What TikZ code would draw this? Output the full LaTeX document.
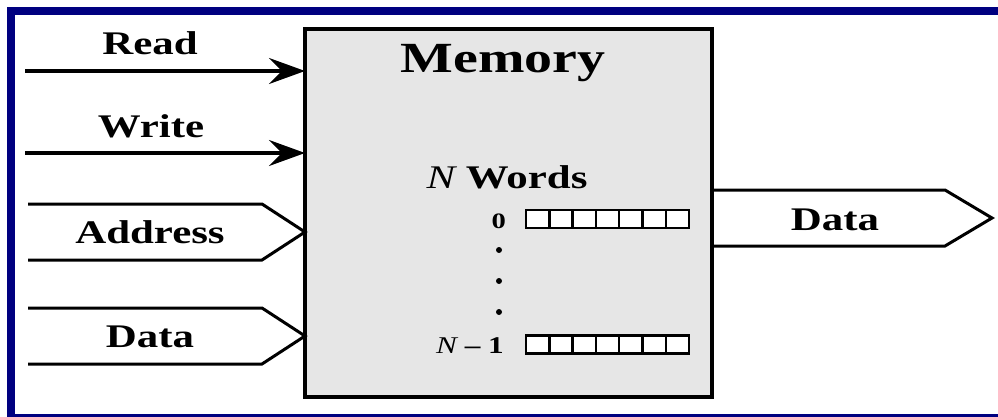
\documentclass[tikz,border=0pt]{standalone}
\usepackage{fontspec}
\setmainfont{Liberation Serif}[FakeStretch=1.3]
\usetikzlibrary{arrows.meta,positioning,calc}
\definecolor{framenavy}{RGB}{0,0,128}
\definecolor{memgray}{RGB}{230,230,230}

\begin{document}
\begin{tikzpicture}[x=1pt,y=-1pt]
\tikzset{lbl/.style={font=\fontsize{33}{36}\selectfont\bfseries,inner sep=0pt,anchor=base}}
\tikzset{wire/.style={line width=3.2pt,-{Stealth[length=36pt,width=26pt,inset=13pt]}}}
\tikzset{bus/.style={line width=3pt,line join=miter}}
\tikzset{cell/.style={draw,line width=2.4pt,fill=white,minimum width=23.3pt,minimum height=18pt,inner sep=0pt,outer sep=0pt}}
\useasboundingbox (0,0) rectangle (998,417);
% frame
\fill[framenavy] (7,7) rectangle (998,15);
\fill[framenavy] (7,7) rectangle (15,417);
\fill[framenavy] (7,414) rectangle (998,417);
% memory block
\node[draw,line width=3.5pt,fill=memgray,minimum width=407pt,minimum height=368pt,
  inner sep=0pt,outer sep=0pt,anchor=north west] (mem) at (305,29) {};
\node[font=\fontsize{43}{46}\selectfont\bfseries,inner sep=0pt,anchor=base] (title) at (503,73) {Memory};
\node[font=\fontsize{33}{36}\selectfont\bfseries,inner sep=0pt,anchor=base] (words) at (507,188)
  {{\mdseries\itshape N} Words};
\node[font=\fontsize{22}{24}\selectfont\bfseries,inner sep=0pt,anchor=base east] (first) at (506,228) {0};
\node[font=\fontsize{24}{26}\selectfont\bfseries,inner sep=0pt,anchor=base east] (last) at (504,353)
  {{\mdseries\itshape N} – 1};
\foreach \i in {0,...,6} {
  \node[cell] (f\i) at (537.65+23.3*\i,219) {};
  \node[cell] (l\i) at (537.65+23.3*\i,344.5) {};
}
\foreach \y in {250,281,312}
  \fill (499,\y) circle (3pt);
% control lines
\node[lbl] (rd) at (150,55) {Read};
\node[lbl] (wr) at (151,138) {Write};
\coordinate (rdin) at (25,71);
\coordinate (wrin) at (25,153);
\draw[wire] (rdin) -- (rdin -| mem.west);
\draw[wire] (wrin) -- (wrin -| mem.west);
% buses
\node[lbl] (addr) at (150,243) {Address};
\node[lbl] (din) at (150,347) {Data};
\node[lbl] (dout) at (835,230) {Data};
\foreach \y in {232,336}
  \draw[bus] (28,\y-28) -- (262,\y-28) -- (305,\y) -- (262,\y+28) -- (28,\y+28);
\draw[bus] (mem.east |- 0,190) -- (945,190) -- (992,218) -- (945,246) -- (mem.east |- 0,246);
\end{tikzpicture}
\end{document}
